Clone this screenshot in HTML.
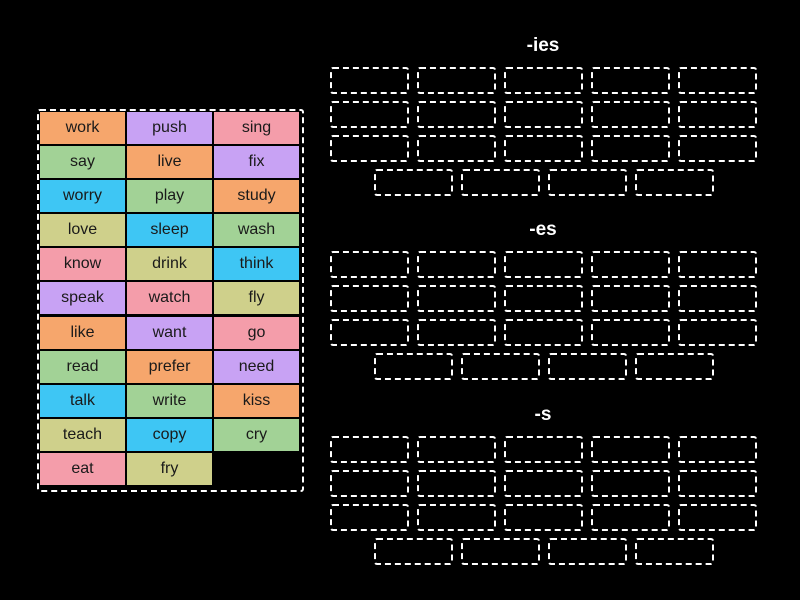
<!DOCTYPE html>
<html><head><style>
body{margin:0;width:800px;height:600px;background:#000;position:relative;overflow:hidden;font-family:"Liberation Sans",sans-serif}
.bank{position:absolute;left:37px;top:109px;width:267px;height:383px;border:2px dashed #fff;border-radius:3px;box-sizing:border-box}
.c{position:absolute;width:85px;height:32px;display:flex;align-items:center;justify-content:center;font-size:16px;color:#1a1a1a}
.O{background:#f6a66c}.P{background:#c8a2f4}.K{background:#f49daa}.G{background:#a2d296}.B{background:#3ec6f4}.Y{background:#cfd08b}
.h{position:absolute;width:100px;left:493px;text-align:center;color:#fff;font-weight:bold;font-size:19px}
.b{position:absolute;width:79px;height:27px;border:2px dashed #fff;border-radius:3px;box-sizing:border-box}
</style></head><body>
<div class="bank"></div>
<div class="c O" style="left:40px;top:112px">work</div><div class="c P" style="left:127px;top:112px">push</div><div class="c K" style="left:214px;top:112px">sing</div>
<div class="c G" style="left:40px;top:146px">say</div><div class="c O" style="left:127px;top:146px">live</div><div class="c P" style="left:214px;top:146px">fix</div>
<div class="c B" style="left:40px;top:180px">worry</div><div class="c G" style="left:127px;top:180px">play</div><div class="c O" style="left:214px;top:180px">study</div>
<div class="c Y" style="left:40px;top:214px">love</div><div class="c B" style="left:127px;top:214px">sleep</div><div class="c G" style="left:214px;top:214px">wash</div>
<div class="c K" style="left:40px;top:248px">know</div><div class="c Y" style="left:127px;top:248px">drink</div><div class="c B" style="left:214px;top:248px">think</div>
<div class="c P" style="left:40px;top:282px">speak</div><div class="c K" style="left:127px;top:282px">watch</div><div class="c Y" style="left:214px;top:282px">fly</div>
<div class="c O" style="left:40px;top:317px">like</div><div class="c P" style="left:127px;top:317px">want</div><div class="c K" style="left:214px;top:317px">go</div>
<div class="c G" style="left:40px;top:351px">read</div><div class="c O" style="left:127px;top:351px">prefer</div><div class="c P" style="left:214px;top:351px">need</div>
<div class="c B" style="left:40px;top:385px">talk</div><div class="c G" style="left:127px;top:385px">write</div><div class="c O" style="left:214px;top:385px">kiss</div>
<div class="c Y" style="left:40px;top:419px">teach</div><div class="c B" style="left:127px;top:419px">copy</div><div class="c G" style="left:214px;top:419px">cry</div>
<div class="c K" style="left:40px;top:453px">eat</div><div class="c Y" style="left:127px;top:453px">fry</div>

<div class="h" style="top:35px">-ies</div>
<div class="b" style="left:330px;top:67px"></div><div class="b" style="left:417px;top:67px"></div><div class="b" style="left:504px;top:67px"></div><div class="b" style="left:591px;top:67px"></div><div class="b" style="left:678px;top:67px"></div>
<div class="b" style="left:330px;top:101px"></div><div class="b" style="left:417px;top:101px"></div><div class="b" style="left:504px;top:101px"></div><div class="b" style="left:591px;top:101px"></div><div class="b" style="left:678px;top:101px"></div>
<div class="b" style="left:330px;top:135px"></div><div class="b" style="left:417px;top:135px"></div><div class="b" style="left:504px;top:135px"></div><div class="b" style="left:591px;top:135px"></div><div class="b" style="left:678px;top:135px"></div>
<div class="b" style="left:374px;top:169px"></div><div class="b" style="left:461px;top:169px"></div><div class="b" style="left:548px;top:169px"></div><div class="b" style="left:635px;top:169px"></div>

<div class="h" style="top:219px">-es</div>
<div class="b" style="left:330px;top:251px"></div><div class="b" style="left:417px;top:251px"></div><div class="b" style="left:504px;top:251px"></div><div class="b" style="left:591px;top:251px"></div><div class="b" style="left:678px;top:251px"></div>
<div class="b" style="left:330px;top:285px"></div><div class="b" style="left:417px;top:285px"></div><div class="b" style="left:504px;top:285px"></div><div class="b" style="left:591px;top:285px"></div><div class="b" style="left:678px;top:285px"></div>
<div class="b" style="left:330px;top:319px"></div><div class="b" style="left:417px;top:319px"></div><div class="b" style="left:504px;top:319px"></div><div class="b" style="left:591px;top:319px"></div><div class="b" style="left:678px;top:319px"></div>
<div class="b" style="left:374px;top:353px"></div><div class="b" style="left:461px;top:353px"></div><div class="b" style="left:548px;top:353px"></div><div class="b" style="left:635px;top:353px"></div>

<div class="h" style="top:404px">-s</div>
<div class="b" style="left:330px;top:436px"></div><div class="b" style="left:417px;top:436px"></div><div class="b" style="left:504px;top:436px"></div><div class="b" style="left:591px;top:436px"></div><div class="b" style="left:678px;top:436px"></div>
<div class="b" style="left:330px;top:470px"></div><div class="b" style="left:417px;top:470px"></div><div class="b" style="left:504px;top:470px"></div><div class="b" style="left:591px;top:470px"></div><div class="b" style="left:678px;top:470px"></div>
<div class="b" style="left:330px;top:504px"></div><div class="b" style="left:417px;top:504px"></div><div class="b" style="left:504px;top:504px"></div><div class="b" style="left:591px;top:504px"></div><div class="b" style="left:678px;top:504px"></div>
<div class="b" style="left:374px;top:538px"></div><div class="b" style="left:461px;top:538px"></div><div class="b" style="left:548px;top:538px"></div><div class="b" style="left:635px;top:538px"></div>
</body></html>
